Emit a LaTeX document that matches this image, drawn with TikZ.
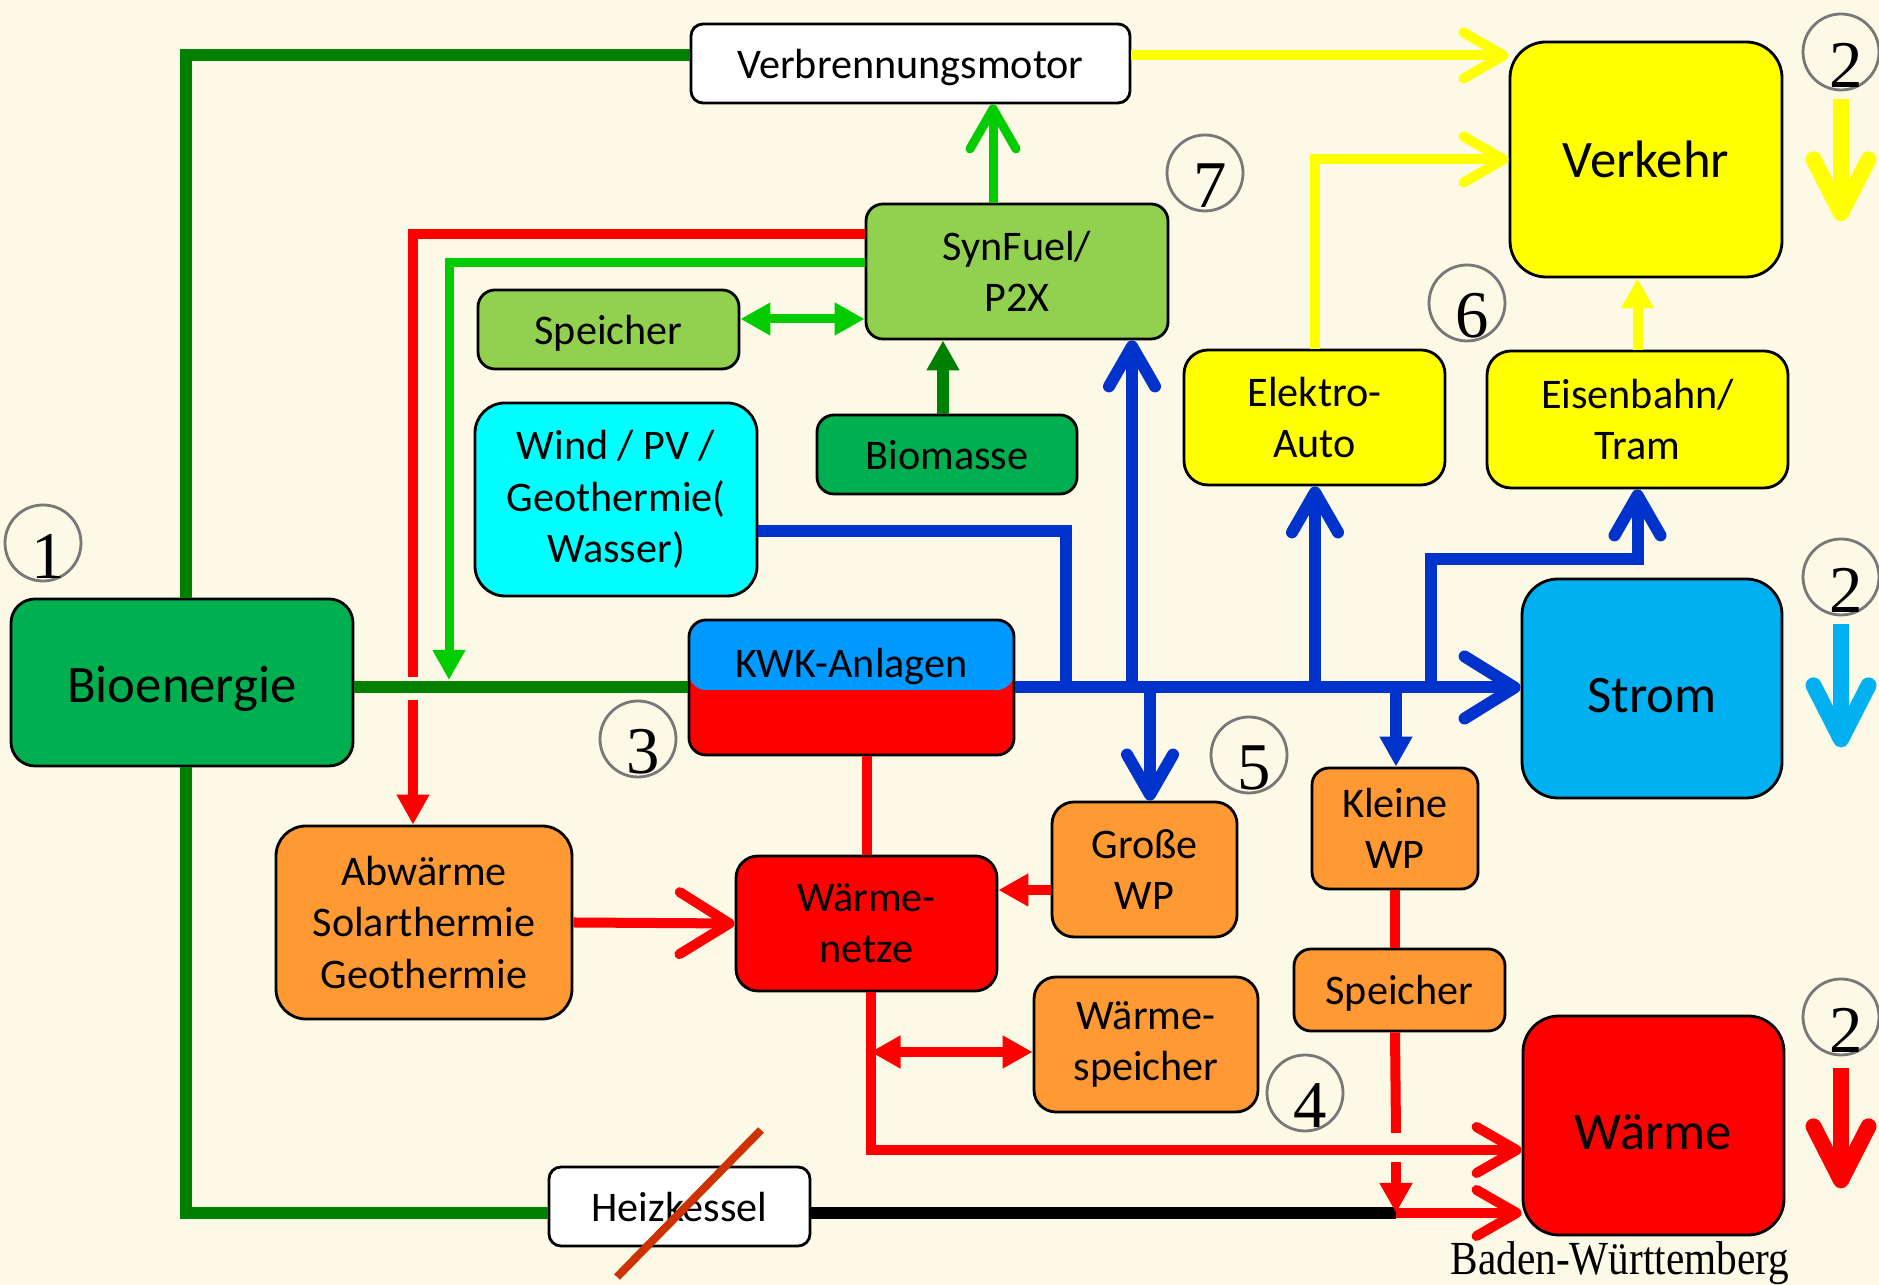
\documentclass[tikz,border=0pt]{standalone}
\usepackage{fontspec}
\setmainfont{Carlito}
\newfontfamily\numfont{Liberation Serif}
\usepackage{tikz}
\usetikzlibrary{arrows.meta, positioning}

\definecolor{bgcream}{RGB}{252, 249, 230}
\definecolor{darkgreen}{RGB}{0, 128, 0}
\definecolor{lightgreen}{RGB}{0, 204, 0}
\definecolor{boxgreen}{RGB}{146, 208, 80}
\definecolor{biogreen}{RGB}{0, 176, 80}
\definecolor{windcyan}{RGB}{0, 255, 255}
\definecolor{flowblue}{RGB}{0, 51, 204}
\definecolor{stromblue}{RGB}{0, 176, 240}
\definecolor{kwkblue}{RGB}{0, 153, 255}
\definecolor{heatred}{RGB}{255, 0, 0}
\definecolor{heatorange}{RGB}{255, 153, 51}
\definecolor{strikered}{RGB}{204, 51, 0}
\definecolor{circgray}{RGB}{120, 120, 120}
\definecolor{carsyellow}{RGB}{255, 255, 0}

\begin{document}
\begin{tikzpicture}[
  box/.style={draw=black, line width=0.8pt, rounded corners=0.17cm, align=center, inner sep=0pt, font=\fontsize{12}{14.6}\selectfont},
  bigbox/.style={box, rounded corners=0.36cm, font=\fontsize{15}{18}\selectfont},
  oneline/.style={align=none, text height=0.38cm, text depth=0.085cm},
  sunk/.style={align=none, text height=0.55cm, text depth=0.06cm},
  numcirc/.style={circle, draw=circgray, line width=0.8pt, minimum size=0.76cm, inner sep=0pt},
  numtxt/.style={inner sep=0pt, font=\numfont\fontsize{19}{20}\selectfont},
  gline/.style={draw=darkgreen, line width=0.12cm},
  lgline/.style={draw=lightgreen, line width=0.09cm},
  bline/.style={draw=flowblue, line width=0.12cm},
  yline/.style={draw=carsyellow, line width=0.1cm},
  rline/.style={draw=heatred, line width=0.1cm},
  chev/.tip={Straight Barb[round, length=0.4cm, width=0.46cm]},
  wchev/.tip={Straight Barb[round, length=0.5cm, width=0.62cm]},
  tri/.tip={Triangle[length=0.3cm, width=0.31cm]},
  bigchev/.tip={Straight Barb[round, length=0.54cm, width=0.55cm]},
  sidearrow/.style={line width=0.16cm, -bigchev}
]
  \useasboundingbox (0,0) rectangle (18.79,12.85);
  \fill[bgcream] (0,0) rectangle (18.79,12.85);

  % Top row
  \node[box, oneline, fill=white, rounded corners=0.12cm, minimum width=4.39cm, minimum height=0.79cm] (vm) at (9.105,12.215) {Verbrennungsmotor};
  \node[bigbox, fill=carsyellow, minimum width=2.72cm, minimum height=2.35cm] (verkehr) at (16.46,11.255) {Verkehr};
  % Synthetic fuels
  \node[box, fill=boxgreen, minimum width=3.02cm, minimum height=1.35cm] (syn) at (10.17,10.135) {SynFuel/\\P2X};
  \node[box, oneline, fill=boxgreen, minimum width=2.61cm, minimum height=0.79cm] (spg) at (6.085,9.555) {Speicher};
  \node[box, oneline, fill=biogreen, minimum width=2.6cm, minimum height=0.79cm] (bio) at (9.47,8.305) {Biomasse};
  \node[box, fill=windcyan, rounded corners=0.3cm, minimum width=2.82cm, minimum height=1.93cm] (wind) at (6.16,7.855) {Wind / PV /\\Geothermie(\\Wasser)};
  % Transport
  \node[box, fill=carsyellow, rounded corners=0.24cm, minimum width=2.61cm, minimum height=1.35cm] (eauto) at (13.145,8.675) {Elektro-\\Auto};
  \node[box, fill=carsyellow, rounded corners=0.24cm, minimum width=3.01cm, minimum height=1.37cm] (bahn) at (16.375,8.655) {Eisenbahn/\\Tram};
  % Middle row
  \node[bigbox, sunk, text height=0.47cm, fill=biogreen, rounded corners=0.24cm, minimum width=3.42cm, minimum height=1.67cm] (bioe) at (1.82,6.025) {Bioenergie};
  \node[box, fill=heatred, minimum width=3.25cm, minimum height=1.35cm,
    path picture={\fill[kwkblue] (path picture bounding box.north west) rectangle ([yshift=-0.7cm]path picture bounding box.north east);}] (kwk) at (8.515,5.975) {};
  \node[font=\fontsize{12}{14.6}\selectfont] (kwktxt) at ([yshift=-0.48cm]kwk.north) {KWK-Anlagen};
  \node[bigbox, sunk, fill=stromblue, minimum width=2.6cm, minimum height=2.19cm] (strom) at (16.52,5.965) {Strom};
  % Heat
  \node[box, fill=heatorange, rounded corners=0.3cm, minimum width=2.96cm, minimum height=1.93cm] (abw) at (4.24,3.625) {Abwärme\\Solarthermie\\Geothermie};
  \node[box, fill=heatred, rounded corners=0.22cm, minimum width=2.61cm, minimum height=1.35cm] (wn) at (8.665,3.615) {Wärme-\\netze};
  \node[box, fill=heatorange, rounded corners=0.22cm, minimum width=1.85cm, minimum height=1.35cm] (gwp) at (11.445,4.155) {Große\\WP};
  \node[box, fill=heatorange, minimum width=1.66cm, minimum height=1.21cm] (kwp) at (13.95,4.565) {Kleine\\WP};
  \node[box, oneline, fill=heatorange, minimum width=2.11cm, minimum height=0.82cm] (sps) at (13.995,2.95) {Speicher};
  \node[box, fill=heatorange, rounded corners=0.22cm, minimum width=2.24cm, minimum height=1.35cm] (wsp) at (11.46,2.405) {Wärme-\\speicher};
  \node[bigbox, sunk, fill=heatred, minimum width=2.61cm, minimum height=2.19cm] (waerme) at (16.535,1.595) {Wärme};
  \node[box, oneline, fill=white, rounded corners=0.12cm, minimum width=2.61cm, minimum height=0.79cm] (heiz) at (6.795,0.785) {Heizkessel};

  % Numbered circles
  \foreach \nm/\d/\x/\y in {c1/1/0.43/7.42, c2a/2/18.41/12.33, c2b/2/18.41/7.08, c2c/2/18.41/2.68,
      c3/3/6.38/5.46, c4/4/13.05/1.92, c5/5/12.49/5.30, c6/6/14.67/9.82, c7/7/12.05/11.12} {
    \node[numcirc] (\nm) at (\x,\y) {};
    \node[numtxt] (\nm-d) at ([shift={(0.05,-0.13)}]\nm.center) {\d};
  }

  % Junction points
  \coordinate (bwind) at (10.66,5.975);
  \coordinate (bsyn) at (11.32,5.975);
  \coordinate (bgwp) at (11.50,5.975);
  \coordinate (beauto) at (13.15,5.975);
  \coordinate (bkwp) at (13.96,5.975);
  \coordinate (bbahn) at (14.31,5.975);
  \coordinate (redgapa) at (4.13,6.08);
  \coordinate (redgapb) at (4.13,5.85);
  \coordinate (lgtip) at (4.49,6.05);
  \coordinate (hgapa) at (13.96,1.52);
  \coordinate (hgapb) at (13.96,1.23);
  \coordinate (heatjoin) at (13.96,0.72);

  % Bioenergie lines
  \draw[gline] ([yshift=0.08cm]vm.west) -| ([xshift=0.04cm]bioe.north);
  \draw[gline] ([xshift=0.04cm]bioe.south) |- ([yshift=-0.065cm]heiz.west);
  \draw[gline] (kwk.west -| bioe.east) -- (kwk.west);
  \draw[line width=0.12cm] ([yshift=-0.065cm]heiz.east) -- (heatjoin);

  % SynFuel
  \draw[rline] ([yshift=0.375cm]syn.west) -| (redgapa);
  \draw[rline, -tri] (redgapb) -- (redgapb |- abw.north);
  \draw[lgline, -tri] ([yshift=0.085cm]syn.west) -| (lgtip);
  \draw[lgline, -chev] ([xshift=-0.24cm]syn.north) -- ([xshift=-0.24cm]syn.north |- vm.south);
  \draw[lgline, tri-tri] ([yshift=0.105cm]spg.east) -- ([yshift=0.105cm]spg.east -| syn.west);
  \draw[gline, -tri] ([xshift=-0.04cm]bio.north) -- ([xshift=-0.04cm]bio.north |- syn.south);

  % Electricity
  \draw[bline] ([yshift=-0.315cm]wind.east) -| (bwind);
  \draw[bline, -wchev] (kwk.east) -- (kwk.east -| strom.west);
  \draw[bline, -chev] (bsyn) -- (bsyn |- syn.south);
  \draw[bline, -chev] (bgwp) -- (bgwp |- gwp.north);
  \draw[bline, -chev] (beauto) -- (beauto |- eauto.south);
  \draw[bline, -tri] (bkwp) -- (bkwp |- kwp.north);
  \draw[bline, -chev] (bbahn) |- ([yshift=-0.7cm]bahn.south) -- (bahn.south);

  % Transport
  \draw[yline, -chev] ([yshift=0.08cm]vm.east) -- ([yshift=0.08cm]vm.east -| verkehr.west);
  \draw[yline, -chev] (eauto.north) |- (verkehr.west);
  \draw[yline, -tri] (bahn.north) -- (bahn.north |- verkehr.south);

  % Heat
  \draw[rline] (wn.north |- kwk.south) -- (wn.north);
  \draw[rline, -chev] ([xshift=0.04cm]wn.south) |- ([yshift=-0.245cm]waerme.west);
  \draw[rline, tri-tri] ([xshift=0.04cm, yshift=-0.075cm]wsp.west -| wn.south) -- ([yshift=-0.075cm]wsp.west);
  \draw[rline, -tri] ([yshift=-0.205cm]gwp.west) -- ([yshift=-0.205cm]gwp.west -| wn.east);
  \draw[rline, -wchev] (abw.east) -- (wn.west);
  \draw[rline] (kwp.south) -- (kwp.south |- sps.north);
  \draw[rline] (kwp.south |- sps.south) -- (hgapa);
  \draw[rline, -tri] (hgapb) -- (heatjoin);
  \draw[rline, -chev] (heatjoin) -- (heatjoin -| waerme.west);

  % Sector arrows
  \draw[sidearrow, carsyellow] ([yshift=-0.08cm]c2a.south) -- ++(0,-1.22);
  \draw[sidearrow, stromblue] ([yshift=-0.08cm]c2b.south) -- ++(0,-1.23);
  \draw[sidearrow, heatred] ([yshift=-0.12cm]c2c.south) -- ++(0,-1.2);

  % Heizkessel crossed out
  \draw[strikered, line width=0.08cm] (7.61,1.55) -- (6.17,0.08);

  \node[font=\numfont\fontsize{13.5}{15}\selectfont, anchor=base] (bw) at (16.2,0.1) {\scalebox{0.87}[1]{Baden-Württemberg}};
\end{tikzpicture}
\end{document}
